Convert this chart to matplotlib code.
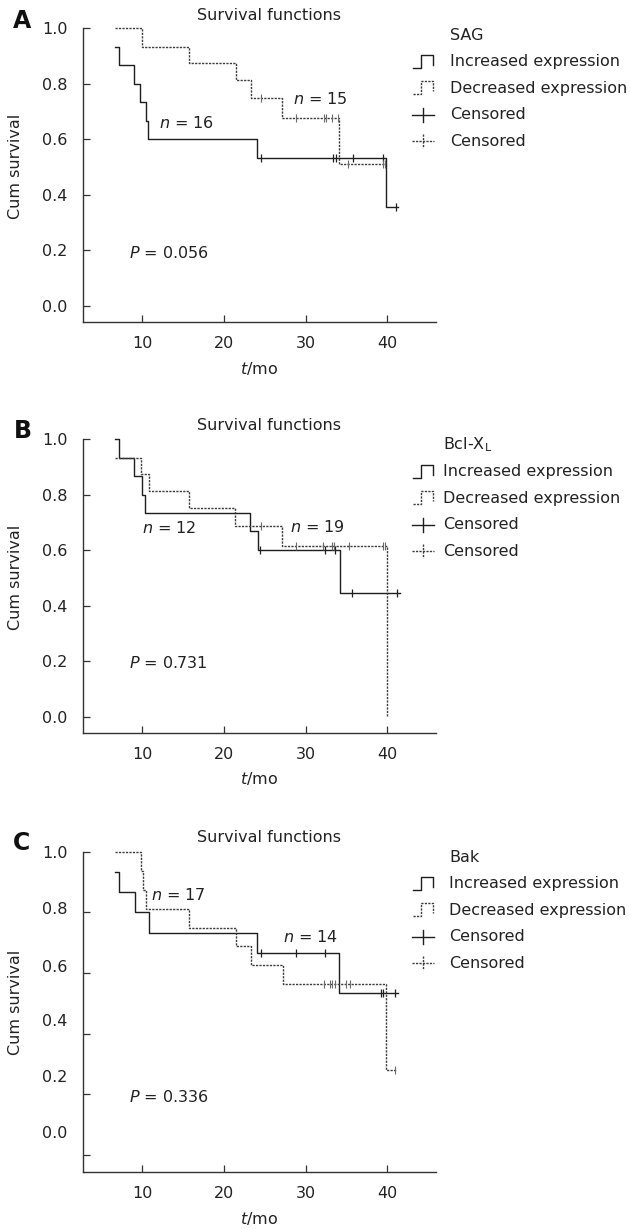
import matplotlib.pyplot as plt
import numpy as np

plt.rcParams['font.family'] = ['DejaVu Sans']
plt.rcParams['mathtext.fontset'] = 'dejavusans'
plt.rcParams['font.size'] = 11.5

# ---- panel A : SAG ----
a_inc_t = [6.65, 7.14, 9.02, 9.71, 10.41, 10.73, 24.08, 39.9, 41.35]
a_inc_s = [0.933, 0.867, 0.8, 0.733, 0.667, 0.6, 0.533, 0.355, 0.355]
a_inc_cens = [24.53, 33.4, 33.7, 35.8, 39.55, 41.15]
a_dec_t = [6.65, 9.92, 15.76, 21.43, 23.27, 27.06, 34.12, 39.7]
a_dec_s = [1.0, 0.933, 0.875, 0.8125, 0.75, 0.675, 0.51, 0.51]
a_dec_cens = [24.53, 28.8, 32.27, 32.5, 33.23, 33.93, 35.15, 39.5, 39.7]

# ---- panel B : Bcl-XL ----
b_inc_t = [6.61, 7.1, 8.98, 9.96, 10.37, 23.22, 24.16, 34.2, 41.6]
b_inc_s = [1.0, 0.933, 0.867, 0.8, 0.733, 0.667, 0.6, 0.444, 0.444]
b_inc_cens = [24.47, 32.45, 33.67, 35.7, 41.2]
b_dec_t = [6.61, 9.88, 10.78, 15.67, 21.39, 27.14, 40.05]
b_dec_s = [0.933, 0.875, 0.8125, 0.75, 0.6875, 0.615, 0.0]
b_dec_cens = [24.49, 28.86, 32.2, 33.27, 33.47, 35.3, 39.55, 39.7]

# ---- panel C : Bak ----
c_inc_t = [6.65, 7.14, 9.1, 10.86, 24.08, 34.05, 41.35]
c_inc_s = [0.933, 0.867, 0.8, 0.733, 0.667, 0.533, 0.533]
c_inc_cens = [24.53, 28.82, 32.45, 39.3, 39.5, 41.0]
c_dec_t = [6.65, 9.84, 10.04, 10.41, 15.71, 21.43, 23.31, 27.18, 39.92, 41.27]
c_dec_s = [1.0, 0.9375, 0.875, 0.8125, 0.75, 0.6875, 0.625, 0.5625, 0.28, 0.28]
c_dec_cens = [32.25, 33.06, 33.31, 33.63, 35.02, 35.5, 40.94]

letters = ['A', 'B', 'C']
genes = ['SAG', 'Bcl-X$_{\\mathregular{L}}$', 'Bak']
p_vals = ['0.056', '0.731', '0.336']
p_pos = [(8.3, 0.19), (8.4, 0.192), (8.4, 0.192)]
n_inc = ['16', '12', '14']
n_inc_pos = [(12.0, 0.657), (10.0, 0.678), (27.3, 0.718)]
n_dec = ['15', '19', '17']
n_dec_pos = [(28.5, 0.745), (28.1, 0.682), (11.1, 0.857)]
y_ticks = [0.0, 0.2, 0.4, 0.6, 0.8, 1.0]
y_ticklabels = ['0.0', '0.2', '0.4', '0.6', '0.8', '1.0']
# in panel C the printed labels sit off their tick marks
c_label_pos = [0.075, 0.26, 0.445, 0.624, 0.813, 1.0]
x_ticks = [10, 20, 30, 40]

curves = [
    (a_inc_t, a_inc_s, a_inc_cens, a_dec_t, a_dec_s, a_dec_cens),
    (b_inc_t, b_inc_s, b_inc_cens, b_dec_t, b_dec_s, b_dec_cens),
    (c_inc_t, c_inc_s, c_inc_cens, c_dec_t, c_dec_s, c_dec_cens),
]

W, H = 630, 1229
fig = plt.figure(figsize=(W / 100, H / 100), dpi=100)

# axes boxes in pixels: (top, bottom)
boxes = [(28.3, 322.3), (439.0, 732.7), (851.7, 1172.3)]
ymins = [-0.06, -0.058, -0.057]
left_px, right_px = 83, 436

solid_col = '#1e1e1e'
dot_col = '#3c3c3c'
dot_ls = (0, (1.6, 0.9))


def surv_at(t, s, c):
    idx = np.searchsorted(t, c, side='right') - 1
    return np.array(s)[idx]


for i, (top, bot) in enumerate(boxes):
    ax = fig.add_axes([left_px / W, 1 - bot / H, (right_px - left_px) / W, (bot - top) / H])
    it, is_, ic, dt, ds, dc = curves[i]

    ax.step(it, is_, where='post', color=solid_col, lw=1.0, clip_on=False)
    ax.step(dt, ds, where='post', color=dot_col, lw=1.0, ls=dot_ls, clip_on=False)
    ax.plot(ic, surv_at(it, is_, ic), ls='none', marker='|', ms=6, mew=0.9,
            color=solid_col, clip_on=False)
    ax.plot(dc, surv_at(dt, ds, dc), ls='none', marker='|', ms=6, mew=0.8,
            color='#6a6a6a', clip_on=False)

    ax.set_xlim(2.72, 46.0)
    ax.set_ylim(ymins[i], 1.0)
    ax.spines['top'].set_visible(False)
    ax.spines['right'].set_visible(False)
    for sp in ['left', 'bottom']:
        ax.spines[sp].set_linewidth(1.0)
        ax.spines[sp].set_color('#333333')

    ax.set_xticks(x_ticks)
    ax.tick_params(axis='both', which='major', direction='in', length=5, width=0.9,
                   color='#333333', labelcolor='#222222')
    ax.tick_params(axis='x', pad=10)
    ax.tick_params(axis='y', pad=11)
    if i == 2:
        ax.yaxis.remove_overlapping_locs = False
        ax.set_yticks(y_ticks, [''] * 6)
        ax.set_yticks(c_label_pos, y_ticklabels, minor=True)
        ax.tick_params(axis='y', which='minor', length=0, pad=11, labelcolor='#222222')
    else:
        ax.set_yticks(y_ticks, y_ticklabels)

    ax.set_ylabel('Cum survival', color='#222222')
    ax.yaxis.set_label_coords(-0.17, 0.53)
    ax.set_xlabel('$t$/mo', color='#222222')
    h = bot - top
    ax.xaxis.set_label_coords(0.5, -46 / h)
    ax.xaxis.label.set_verticalalignment('center')

    ax.text(p_pos[i][0], p_pos[i][1], '$P$ = ' + p_vals[i], ha='left', va='center',
            color='#222222')
    ax.text(n_inc_pos[i][0], n_inc_pos[i][1], '$n$ = ' + n_inc[i], ha='left', va='center',
            color='#222222')
    ax.text(n_dec_pos[i][0], n_dec_pos[i][1], '$n$ = ' + n_dec[i], ha='left', va='center',
            color='#222222')

# overlay in pixel units for titles, letters and legends
ov = fig.add_axes([0, 0, 1, 1])
ov.set_xlim(0, W)
ov.set_ylim(H, 0)
ov.axis('off')

title_y = [15, 426, 838]
letter_pos = [(22, 21.5), (23, 431), (21.5, 843)]
leg_title_y = [35, 445, 857]
leg_text_x = [450, 443, 449]
row_gap = 26.5

for i in range(3):
    ov.text(268.7, title_y[i], 'Survival functions', ha='center', va='center',
            color='#222222')
    ov.text(letter_pos[i][0], letter_pos[i][1], letters[i], ha='center', va='center',
            fontsize=17, fontweight='bold', color='#111111')
    ov.text(leg_text_x[i], leg_title_y[i], genes[i], ha='left', va='center',
            color='#222222')
    labels = ['Increased expression', 'Decreased expression', 'Censored', 'Censored']
    for k, lab in enumerate(labels):
        y = leg_title_y[i] + row_gap * (k + 1)
        ov.text(leg_text_x[i], y, lab, ha='left', va='center', color='#222222')
        if k < 2:
            col = solid_col if k == 0 else dot_col
            ls = '-' if k == 0 else dot_ls
            ov.plot([413, 421, 421, 433, 433], [y + 6, y + 6, y - 7, y - 7, y + 3],
                    color=col, lw=1.0, ls=ls)
        else:
            col = solid_col if k == 2 else dot_col
            ls = '-' if k == 2 else dot_ls
            ov.plot([412, 434], [y, y], color=col, lw=1.0, ls=ls)
            ov.plot([423, 423], [y - 7, y + 7], color=col, lw=1.0, ls=ls)

plt.savefig('out.png', dpi=100)
